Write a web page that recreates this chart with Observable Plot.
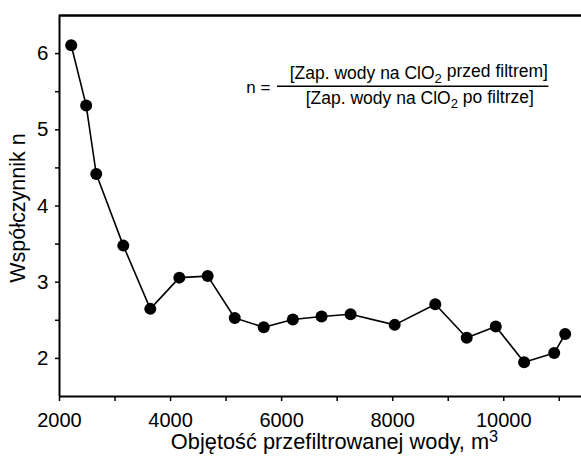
<!DOCTYPE html>
<html>
<head>
<meta charset="utf-8">
<script src="https://cdn.jsdelivr.net/npm/d3@7"></script>
<script src="https://cdn.jsdelivr.net/npm/@observablehq/plot@0.6"></script>
<style>
  html, body { margin: 0; padding: 0; background: #fff; }
  svg { font-family: "Liberation Sans", Arial, sans-serif; }
</style>
</head>
<body>
<div id="chart"></div>
<script>
// Data
const volume = [2211, 2480, 2662, 3149, 3635, 4158, 4669, 5156, 5678, 6202, 6719, 7242, 8036, 8767, 9333, 9856, 10367, 10908, 11106];
const coefN  = [6.11, 5.32, 4.42, 3.48, 2.65, 3.06, 3.08, 2.53, 2.41, 2.51, 2.55, 2.58, 2.44, 2.71, 2.27, 2.42, 1.95, 2.07, 2.32];

const xTicks = [2000, 3000, 4000, 5000, 6000, 7000, 8000, 9000, 10000, 11000];
const yTicks = [2, 2.5, 3, 3.5, 4, 4.5, 5, 5.5, 6];
const xDomain = [2000, 11400];
const yDomain = [1.5, 6.5];

const xTitle = "Objętość przefiltrowanej wody, m3";
const yTitle = "Współczynnik n";
const formulaLHS = "n =";
const numerator = "[Zap. wody na ClO2 przed filtrem]";
const denominator = "[Zap. wody na ClO2 po filtrze]";

const data = volume.map((v, i) => ({x: v, y: coefN[i]}));

const chart = Plot.plot({
  width: 581,
  height: 456,
  marginLeft: 59,
  marginRight: 0,
  marginTop: 15,
  marginBottom: 60,
  style: {fontFamily: '"Liberation Sans", Arial, sans-serif', color: "#000", background: "#fff"},
  x: {domain: xDomain},
  y: {domain: yDomain},
  marks: [
    Plot.axisX({ticks: xTicks, tickSize: 5, tickPadding: 11, fontSize: 20,
      tickFormat: d => d % 2000 === 0 ? String(d) : "", label: null, strokeWidth: 1.5}),
    Plot.axisY({ticks: yTicks, tickSize: 4, tickPadding: 7, fontSize: 20.5,
      tickFormat: d => Number.isInteger(d) ? String(d) : "", label: null, strokeWidth: 1.5}),
    Plot.ruleY([yDomain[1]], {strokeWidth: 2.5}),
    Plot.ruleY([yDomain[0]], {strokeWidth: 2}),
    Plot.ruleX([xDomain[0]], {strokeWidth: 2}),
    Plot.line(data, {x: "x", y: "y", stroke: "#000", strokeWidth: 1.6}),
    Plot.dot(data, {x: "x", y: "y", r: 6, fill: "#000", stroke: "none"}),
    // formula annotation
    Plot.text([formulaLHS], {x: 5799, y: 5.56, textAnchor: "end", fontSize: 17, lineAnchor: "middle"}),
    Plot.ruleY([5.571], {x1: 5926, x2: 10812, strokeWidth: 1.5}),
    Plot.text([numerator], {x: 8470, y: 5.745, fontSize: 17.5, lineAnchor: "middle"}),
    Plot.text([denominator], {x: 8488, y: 5.41, fontSize: 17.5, lineAnchor: "middle"}),
    // axis titles
    Plot.text([yTitle], {frameAnchor: "left", textAnchor: "middle", dx: -41, dy: 2, rotate: -90, fontSize: 21.5, lineAnchor: "middle"}),
    Plot.text([xTitle], {frameAnchor: "bottom", textAnchor: "middle", dx: 14, dy: 46, fontSize: 21.8, lineAnchor: "middle"})
  ]
});

// rich text: subscripts / superscripts
d3.select(chart).selectAll("text").each(function() {
  const t = d3.select(this);
  const s = t.text();
  if (s.includes("ClO2")) {
    const [a, b] = s.split("ClO2");
    t.text(null);
    t.append("tspan").text(a + "ClO");
    t.append("tspan").attr("dy", "0.3em").attr("font-size", "0.75em").text("2");
    t.append("tspan").attr("dy", "-0.3em").text(b);
  } else if (s === xTitle) {
    t.text(null);
    t.append("tspan").text("Objętość przefiltrowanej wody, m");
    t.append("tspan").attr("dy", "-0.45em").attr("font-size", "0.75em").text("3");
  }
});

document.getElementById("chart").appendChild(chart);
</script>
</body>
</html>
